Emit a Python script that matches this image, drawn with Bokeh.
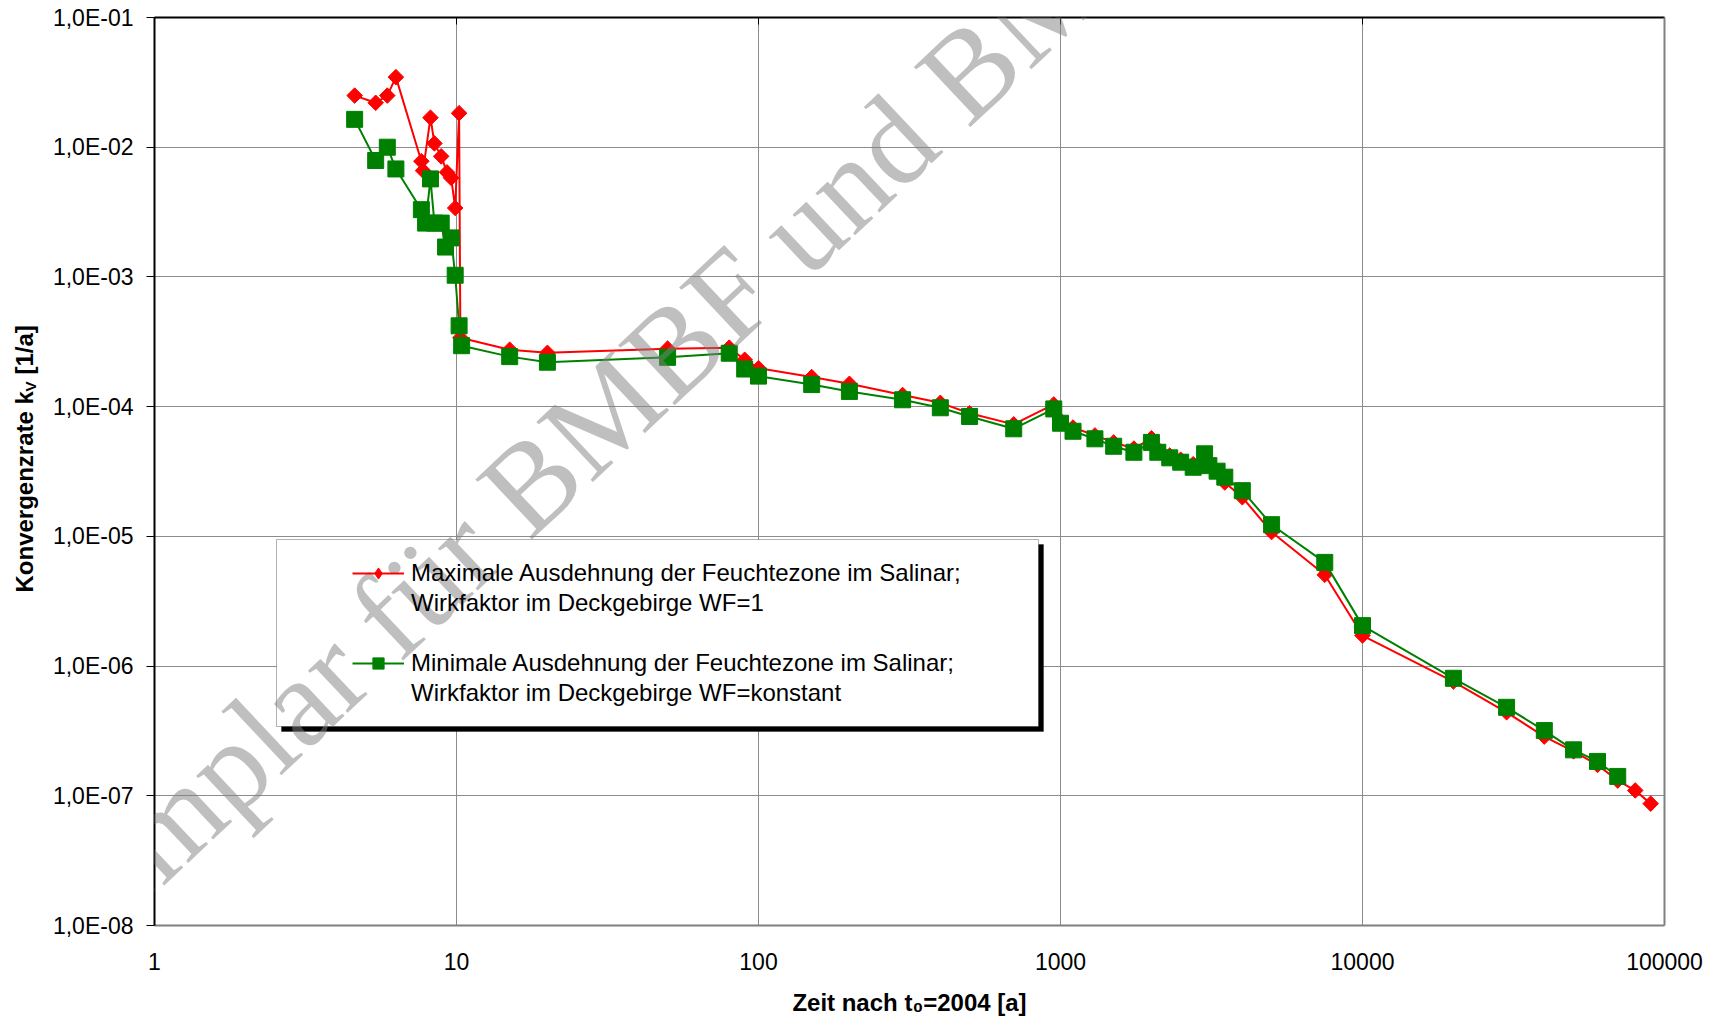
import numpy as np
from bokeh.plotting import figure
from bokeh.layouts import row
from bokeh.models import (Range1d, FixedTicker, LogAxis, Legend, LegendItem,
                          Label, BoxAnnotation)
from bokeh.embed import file_html
from bokeh.resources import INLINE

# ---------------- data ----------------
max_t = [4.6, 5.4, 5.9, 6.3, 7.65, 7.75, 8.2, 8.45, 8.9, 9.3, 9.6, 9.9, 10.2, 10.3,
         15, 20, 50, 80, 90, 100, 150, 200, 300, 400, 500, 700, 950, 1000, 1100,
         1300, 1500, 1750, 2000, 2100, 2300, 2500, 2750, 3000, 3100, 3300, 3500,
         4000, 5000, 7500, 10000, 20000, 30000, 40000, 50000, 60000, 70000,
         80000, 90000]
max_k = [0.025, 0.022, 0.025, 0.0347, 0.0078, 0.0066, 0.0169, 0.0107, 0.0085,
         0.0064, 0.0058, 0.0034, 0.0183, 3.4e-4, 2.75e-4, 2.6e-4, 2.8e-4, 2.85e-4,
         2.3e-4, 1.98e-4, 1.69e-4, 1.5e-4, 1.23e-4, 1.07e-4, 8.9e-5, 7.3e-5,
         1.04e-4, 7.8e-5, 6.9e-5, 6.0e-5, 5.3e-5, 4.75e-5, 5.7e-5, 4.7e-5, 4.2e-5,
         3.9e-5, 3.6e-5, 4.3e-5, 3.6e-5, 3.2e-5, 2.6e-5, 2.0e-5, 1.08e-5, 5.05e-6,
         1.72e-6, 7.6e-7, 4.4e-7, 2.86e-7, 2.2e-7, 1.73e-7, 1.31e-7, 1.10e-7, 8.7e-8]

min_t = [4.6, 5.4, 5.9, 6.3, 7.65, 7.9, 8.2, 8.45, 8.9, 9.2, 9.6, 9.9, 10.2, 10.4,
         15, 20, 50, 80, 90, 100, 150, 200, 300, 400, 500, 700, 950, 1000, 1100,
         1300, 1500, 1750, 2000, 2100, 2300, 2500, 2750, 3000, 3100, 3300, 3500,
         4000, 5000, 7500, 10000, 20000, 30000, 40000, 50000, 60000, 70000]
min_k = [0.0164, 0.0079, 0.0100, 0.0068, 0.0033, 0.0026, 0.0057, 0.0026, 0.0026,
         0.0017, 0.0020, 0.00103, 4.2e-4, 2.95e-4, 2.43e-4, 2.2e-4, 2.4e-4, 2.58e-4,
         1.95e-4, 1.72e-4, 1.48e-4, 1.31e-4, 1.13e-4, 9.8e-5, 8.4e-5, 6.75e-5,
         9.6e-5, 7.45e-5, 6.46e-5, 5.65e-5, 4.95e-5, 4.45e-5, 5.3e-5, 4.45e-5,
         4.03e-5, 3.73e-5, 3.41e-5, 4.33e-5, 3.51e-5, 3.18e-5, 2.86e-5, 2.25e-5,
         1.23e-5, 6.3e-6, 2.05e-6, 8.05e-7, 4.81e-7, 3.18e-7, 2.26e-7, 1.84e-7, 1.41e-7]

x_ticks = [1, 10, 100, 1000, 10000, 100000]
x_tick_labels = ["1", "10", "100", "1000", "10000", "100000"]
y_ticks = [1e-8, 1e-7, 1e-6, 1e-5, 1e-4, 1e-3, 1e-2, 1e-1]
y_tick_labels = ["1,0E-08", "1,0E-07", "1,0E-06", "1,0E-05", "1,0E-04",
                 "1,0E-03", "1,0E-02", "1,0E-01"]

legend_lines = ["Maximale Ausdehnung der Feuchtezone im Salinar;",
                "Wirkfaktor im Deckgebirge WF=1",
                "Minimale Ausdehnung der Feuchtezone im Salinar;",
                "Wirkfaktor im Deckgebirge WF=konstant"]
x_title = "Zeit nach t\u2080=2004 [a]"
y_title_parts = ["Konvergenzrate k", "V", "[1/a]"]
watermark = "Exemplar für BMBF und BMU"

FONT = "Liberation Sans"
RED = "#ff0000"
GREEN = "#008000"
H = 1019
FRAME_TOP, FRAME_BOTTOM = 17, 925

# ---------------- narrow figure carrying the y-axis title ----------------
# (its frame is aligned with the main frame by the row layout; the range is
#  chosen so that data y == H - page y)
LW = 40
lf = figure(width=LW, height=H, x_range=Range1d(0, LW),
            y_range=Range1d(H - FRAME_BOTTOM, H - FRAME_TOP),
            output_backend="svg", toolbar_location=None,
            x_axis_location=None, y_axis_location=None, min_border=0)
lf.grid.visible = False
lf.outline_line_color = None
lf.background_fill_color = "white"
lf.border_fill_color = "white"
lf.add_layout(Label(x=24, y=H - 592, text=y_title_parts[0], angle=np.pi / 2,
                    text_align="left", text_baseline="middle", text_font=FONT,
                    text_font_size="24px", text_font_style="bold",
                    text_color="black"))
lf.add_layout(Label(x=30, y=H - 391, text=y_title_parts[1], angle=np.pi / 2,
                    text_align="left", text_baseline="middle", text_font=FONT,
                    text_font_size="15px", text_font_style="bold",
                    text_color="black"))
lf.add_layout(Label(x=24, y=H - 374, text=y_title_parts[2], angle=np.pi / 2,
                    text_align="left", text_baseline="middle", text_font=FONT,
                    text_font_size="24px", text_font_style="bold",
                    text_color="black"))

# ---------------- main figure ----------------
p = figure(width=1713 - LW, height=H, x_axis_type="log", y_axis_type="log",
           x_range=Range1d(1, 1e5), y_range=Range1d(1e-8, 1e-1),
           output_backend="svg", toolbar_location=None,
           min_border_left=154 - LW, min_border_right=49, min_border_top=FRAME_TOP,
           min_border_bottom=H - FRAME_BOTTOM)
p.outline_line_color = None
p.background_fill_color = "white"
p.border_fill_color = "white"

p.xgrid.ticker = FixedTicker(ticks=x_ticks)
p.ygrid.ticker = FixedTicker(ticks=y_ticks)
p.grid.grid_line_color = "#8c8c8c"
p.grid.grid_line_width = 1

xa = p.xaxis[0]
xa.ticker = FixedTicker(ticks=x_ticks)
xa.major_label_overrides = {float(v): s for v, s in zip(x_ticks, x_tick_labels)}
xa.axis_line_color = "#808080"
xa.axis_line_width = 2
xa.major_tick_in = 0
xa.major_tick_out = 0
xa.minor_tick_in = 0
xa.minor_tick_out = 0
xa.major_label_standoff = 27
xa.major_label_text_font = FONT
xa.major_label_text_font_size = "23px"
xa.major_label_text_color = "black"
xa.axis_label = x_title
xa.axis_label_text_font = FONT
xa.axis_label_text_font_size = "24px"
xa.axis_label_text_font_style = "bold"
xa.axis_label_text_color = "black"
xa.axis_label_standoff = 16

ya = p.yaxis[0]
ya.ticker = FixedTicker(ticks=y_ticks)
ya.major_label_overrides = {float(v): s for v, s in zip(y_ticks, y_tick_labels)}
ya.axis_line_color = "black"
ya.axis_line_width = 2
ya.major_tick_in = 0
ya.major_tick_out = 8
ya.major_tick_line_color = "black"
ya.major_tick_line_width = 1
ya.minor_tick_in = 0
ya.minor_tick_out = 0
ya.major_label_standoff = 13
ya.major_label_text_font = FONT
ya.major_label_text_font_size = "23px"
ya.major_label_text_color = "black"

top = LogAxis(ticker=FixedTicker(ticks=x_ticks), axis_line_color="black",
              axis_line_width=2, major_tick_in=7, major_tick_out=0,
              major_tick_line_color="black", minor_tick_in=0, minor_tick_out=0,
              major_label_text_color=None, major_label_text_font_size="1px",
              major_label_standoff=0)
p.add_layout(top, "above")
right = LogAxis(ticker=FixedTicker(ticks=y_ticks), axis_line_color="#808080",
                axis_line_width=2, major_tick_in=0, major_tick_out=0,
                minor_tick_in=0, minor_tick_out=0,
                major_label_text_color=None, major_label_text_font_size="1px",
                major_label_standoff=0)
p.add_layout(right, "right")

# ---------------- data renderers ----------------
# diamond key for the legend (sits fully under the first red marker)
red_key = p.scatter(max_t[:1], max_k[:1], marker="diamond", size=11,
                    fill_color=RED, line_color=RED)
r_line = p.line(max_t, max_k, line_color=RED, line_width=2)
r_pts = p.scatter(max_t, max_k, marker="square", angle=np.pi / 4, size=11,
                  fill_color=RED, line_color=RED)
g_line = p.line(min_t, min_k, line_color=GREEN, line_width=2)
g_pts = p.scatter(min_t, min_k, marker="square", size=16,
                  fill_color=GREEN, line_color=GREEN)
blank = p.line([], [], line_alpha=0)

# ---------------- legend ----------------
shadow = BoxAnnotation(left=127, right=889, bottom=194, top=381,
                       left_units="screen", right_units="screen",
                       bottom_units="screen", top_units="screen",
                       fill_color="black", fill_alpha=1, line_color="black")
box = BoxAnnotation(left=122, right=884, bottom=199, top=386,
                    left_units="screen", right_units="screen",
                    bottom_units="screen", top_units="screen",
                    fill_color="white", fill_alpha=1, line_color="black",
                    line_width=1)
p.add_layout(shadow)
p.add_layout(box)

legend = Legend(items=[
    LegendItem(label=legend_lines[0], renderers=[r_line, red_key]),
    LegendItem(label=legend_lines[1], renderers=[blank]),
    LegendItem(label=" ", renderers=[blank]),
    LegendItem(label=legend_lines[2], renderers=[g_line, g_pts]),
    LegendItem(label=legend_lines[3], renderers=[blank]),
], location=(198, 218), padding=0, margin=0, spacing=2, label_height=28,
    glyph_height=28, glyph_width=52, label_standoff=7,
    border_line_color=None, background_fill_alpha=0,
    label_text_font=FONT, label_text_font_size="24px", label_text_color="black")
p.add_layout(legend)

# ---------------- watermark ----------------
p.add_layout(Label(x=-164, y=-65, x_units="screen", y_units="screen",
                   text=watermark, angle=0.755, text_align="left",
                   text_baseline="alphabetic", text_font="Liberation Serif",
                   text_font_size="126px", text_color="#808080", text_alpha=0.5,
                   level="overlay"))

layout = row(lf, p)
open("out.html", "w").write(file_html(layout, INLINE))
